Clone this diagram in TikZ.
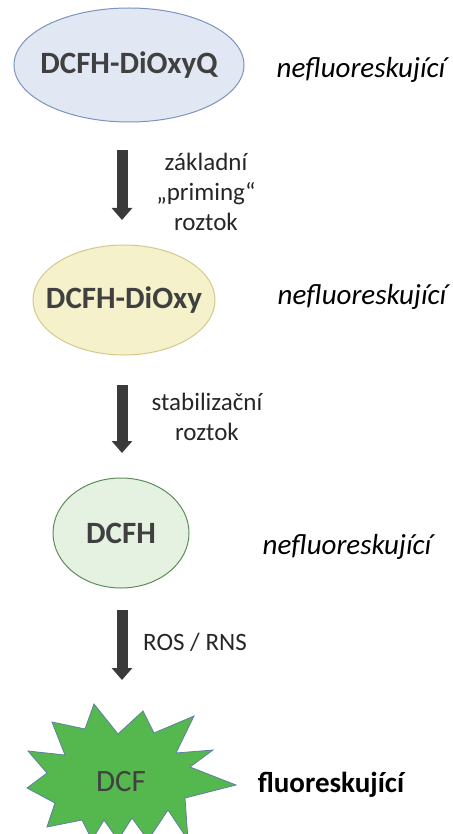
\documentclass[tikz,border=0pt]{standalone}
\usepackage{fontspec}
\setmainfont{Carlito}
\usetikzlibrary{shapes.geometric,arrows.meta}

\definecolor{blueFill}{HTML}{E1E8F4}
\definecolor{blueLine}{HTML}{7B93BE}
\definecolor{yellowFill}{HTML}{F5F2CB}
\definecolor{yellowLine}{HTML}{D2C98A}
\definecolor{greenFill}{HTML}{E5F2E2}
\definecolor{greenLine}{HTML}{5E8E57}
\definecolor{starFill}{HTML}{55B84F}
\definecolor{starLine}{HTML}{5F7FA0}
\definecolor{arrowGray}{HTML}{3A3A3A}
\definecolor{nameGray}{HTML}{404040}

\tikzset{
  compound/.style={ellipse, inner sep=0pt, outer sep=0pt, line width=1pt},
  compoundname/.style={text=nameGray, inner sep=0pt,
    font=\fontsize{31}{37}\selectfont\bfseries},
  state/.style={font=\fontsize{29}{35}\selectfont\itshape, text=black},
  statebold/.style={font=\fontsize{29}{35}\selectfont\bfseries, text=black},
  steplabel/.style={align=center, text=black!85,
    font=\fontsize{25}{30}\selectfont},
  flow/.style={draw=arrowGray, line width=11pt,
    -{Triangle[width=20pt,length=12pt]}}
}

\begin{document}
\begin{tikzpicture}[x=1pt,y=-1pt]
\useasboundingbox (0,0) rectangle (452,834);

% reaction chain: outlines first, names on top
\node[compound, fill=blueFill, draw=blueLine,
      minimum width=230pt, minimum height=114pt] (e1) at (129,65) {};
\node[compound, fill=yellowFill, draw=yellowLine,
      minimum width=182pt, minimum height=110pt] (e2) at (124,300) {};
\node[compound, fill=greenFill, draw=greenLine,
      minimum width=136pt, minimum height=110pt] (e3) at (121,533) {};
\node[compoundname] (n1) at (e1.center) {DCFH-DiOxyQ};
\node[compoundname] (n2) at (e2.center) {DCFH-DiOxy};
\node[compoundname] (n3) at (e3.center) {DCFH};

% fluorescent product: explosion shape
\filldraw[fill=starFill, draw=starLine, line width=0.8pt, line join=miter]
  (94,704) -- (118,734) -- (143,711) -- (154,733) -- (194,716) -- (176,753)
  -- (213,750) -- (190,767) -- (236,785) -- (185,798) -- (188,840)
  -- (168,810) -- (148,840) -- (132,818) -- (118,840) -- (104,820)
  -- (92,840) -- (82,820) -- (47,827) -- (55,803) -- (27,788) -- (47,773)
  -- (28,751) -- (65,755) -- (52,722) -- (85,729) -- cycle;
\node[text=nameGray, font=\fontsize{31}{37}\selectfont] (dcf) at (121,782) {DCF};
\coordinate (startop) at (122,704);

% states
\node[state] (s1) at (361,70) {nefluoreskující};
\node[state] (s2) at (362,297) {nefluoreskující};
\node[state] (s3) at (347,547) {nefluoreskující};
\node[statebold] (s4) at (331,785) {fluoreskující};

% arrows
\coordinate (ax) at (122,0);
\draw[flow, shorten <=28pt, shorten >=25pt] (e1.south -| ax) -- (e2.north -| ax);
\draw[flow, shorten <=30pt, shorten >=25pt] (e2.south -| ax) -- (e3.north -| ax);
\draw[flow, shorten <=22pt, shorten >=24pt] (e3.south -| ax) -- (startop);

% step labels
\node[steplabel] (l1) at (206,192) {základní\\„priming“\\roztok};
\node[steplabel] (l2) at (207,417) {stabilizační\\roztok};
\node[steplabel] (l3) at (195,642) {ROS / RNS};
\end{tikzpicture}
\end{document}
